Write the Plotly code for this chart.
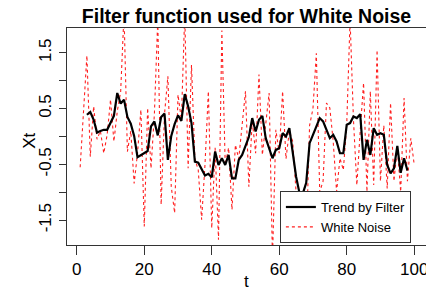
import plotly.graph_objects as go

# White noise values, t = 1..100
t_noise = list(range(1, 101))
noise = [
    -0.55, 0.40, 1.45, -0.36, 0.54, -0.05, 0.10, -0.30, 0.03, 0.66,
    -0.09, 0.45, 0.80, 2.20, -0.27, 0.10, -0.84, -0.30, 0.48, -1.61,
    0.51, -0.57, 0.40, 2.10, -1.22, 0.40, 1.08, -0.90, -1.37, 0.75,
    0.30, 2.20, -0.57, 1.28, -0.40, -0.60, -1.49, -0.50, 0.81, -1.64,
    -0.20, -1.85, 1.90, -0.51, -0.20, -1.31, -0.15, -0.40, 0.20, 0.81,
    -0.90, 0.30, -0.30, 1.11, -0.33, 0.20, 0.78, -2.20, 0.12, -0.30,
    0.81, -0.40, 0.10, -0.09, -1.00, -1.30, -1.40, -1.90, 0.20, 0.50,
    1.49, -0.99, -0.80, 0.60, 0.51, -0.09, -0.99, -0.39, -0.60, 0.20,
    2.10, 0.30, -0.87, 0.10, 0.96, -0.99, 0.81, -0.87, 1.55, -0.80,
    0.20, -0.93, 0.60, -0.80, -0.20, -0.99, 0.69, -0.80, -0.03, -0.50,
]

# Filtered trend, t = 3..98
t_trend = list(range(3, 99))
trend = [
    0.39, 0.44, 0.30, 0.07, 0.10, 0.12, 0.12, 0.25, 0.37, 0.78,
    0.59, 0.66, 0.35, 0.23, 0.01, -0.37, -0.33, -0.29, -0.26, 0.18,
    0.27, 0.02, 0.35, 0.41, -0.42, 0.01, 0.22, 0.38, 0.28, 0.76,
    0.54, 0.24, -0.45, -0.47, -0.60, -0.70, -0.67, -0.73, -0.27, -0.51,
    -0.39, -0.51, -0.33, -0.75, -0.75, -0.42, -0.33, -0.18, -0.01, 0.33,
    0.09, 0.30, 0.37, -0.03, -0.21, -0.39, -0.24, -0.21, 0.06, 0.00,
    0.15, -0.30, -0.72, -1.01, -1.02, -0.83, -0.12, 0.03, 0.18, 0.33,
    0.27, 0.12, -0.03, 0.03, -0.09, -0.30, -0.30, 0.21, 0.24, 0.36,
    0.33, 0.40, -0.42, -0.06, -0.33, 0.15, 0.03, 0.06, 0.03, -0.51,
    -0.66, -0.57, -0.17, -0.65, -0.39, -0.61,
]

x_ticks = [0, 20, 40, 60, 80, 100]
y_ticks = [-1.5, -1.0, -0.5, 0.0, 0.5, 1.0, 1.5]
y_ticktext = ["-1.5", "", "-0.5", "", "0.5", "", "1.5"]

FONT = "Liberation Sans, Arial, sans-serif"
AX = "#333333"

W, H = 426, 292

fig = go.Figure()
fig.add_trace(go.Scatter(
    x=t_noise, y=noise, mode="lines", name="White Noise",
    line=dict(color="#FF2020", width=1.1, dash="dot"), legendrank=2,
))
fig.add_trace(go.Scatter(
    x=t_trend, y=trend, mode="lines", name="Trend by Filter",
    line=dict(color="black", width=2.2), legendrank=1,
))

fig.update_layout(
    width=W, height=H,
    margin=dict(l=67, r=0, t=28, b=47, autoexpand=False),
    paper_bgcolor="white", plot_bgcolor="white",
    font=dict(family=FONT, color="black", size=17),
    title=dict(text="<b>Filter function used for White Noise</b>",
               x=0.5, xref="paper", xanchor="center",
               y=1 - 16 / H, yref="container", yanchor="middle",
               font=dict(size=19.5, family=FONT, color="black")),
    showlegend=True,
    legend=dict(x=0.593, y=0.009, xanchor="left", yanchor="bottom",
                bgcolor="white", bordercolor=AX, borderwidth=1,
                font=dict(size=13, family=FONT), tracegroupgap=0,
                itemwidth=30),
    xaxis=dict(range=[-2.9, 103.5], tickvals=x_ticks, ticks="outside",
               ticklen=9, tickcolor=AX, tickwidth=1, showline=True,
               linecolor=AX, linewidth=1, mirror=True, showgrid=False,
               zeroline=False, tickfont=dict(size=17), automargin=False,
               ticklabeloverflow="allow"),
    yaxis=dict(range=[-1.944, 1.944], tickvals=y_ticks, ticktext=y_ticktext,
               ticks="outside", ticklen=7, tickcolor=AX, tickwidth=1,
               tickangle=-90, showline=True, linecolor=AX, linewidth=1,
               mirror=False, showgrid=False, zeroline=False,
               tickfont=dict(size=17), automargin=False,
               ticklabelstandoff=1),
    annotations=[
        dict(text="t", x=0.5, y=(245 - 293) / 217, xref="paper", yref="paper",
             xanchor="center", yanchor="bottom", showarrow=False,
             font=dict(size=17)),
        dict(text="Xt", x=(30 - 67) / 359, y=0.48, xref="paper", yref="paper",
             xanchor="center", yanchor="middle", showarrow=False,
             textangle=-90, font=dict(size=17)),
    ],
)

# remove the browser's default 8px page margin so the figure fills the window
fig.write_html("out.html",
               config={"displayModeBar": False},
               post_script="document.body.style.margin='0';")
